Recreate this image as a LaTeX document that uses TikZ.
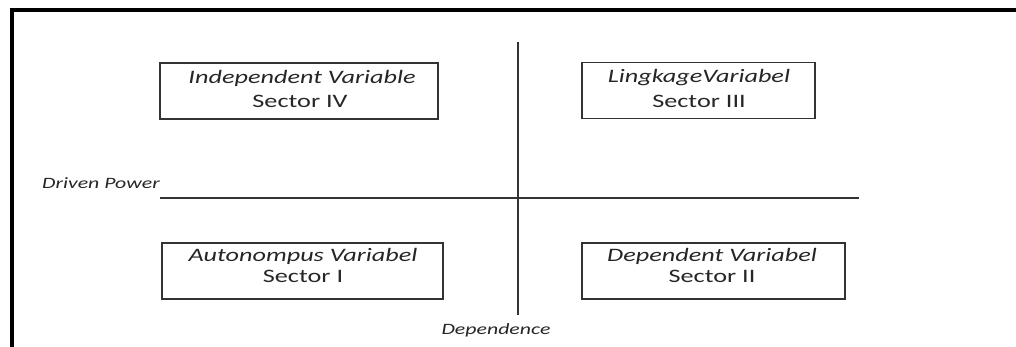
\documentclass[tikz,border=0pt]{standalone}
\usepackage{fontspec}
\setmainfont{Carlito}[FakeStretch=1.38]
\begin{document}
\begin{tikzpicture}[x=1pt,y=-1pt,
  sbox/.style={draw=black!80,line width=1.3pt,minimum width=#1,minimum height=56pt,inner sep=0pt},
  boxtxt/.style={font=\fontsize{19}{21}\selectfont,inner sep=0pt,text=black!85},
  axtxt/.style={font=\fontsize{15.8}{17}\selectfont\itshape,inner sep=0pt,text=black!85},
  axis/.style={draw=black!80,line width=1.4pt},
  frame/.style={draw=black,line width=3.5pt}]
\useasboundingbox (0,0) rectangle (1016,347);
% frame
\coordinate (f1) at (12,10);
\coordinate (f2) at (1016,10);
\coordinate (f3) at (12,347);
\draw[frame] (f2) -- (f1) -- (f3);
% axes
\coordinate (vt) at (518,42);
\coordinate (vb) at (518,315);
\coordinate (hl) at (160,198);
\coordinate (hr) at (859,198);
\draw[axis] (vt) -- (vb);
\draw[axis] (hl) -- (hr);
% boxes
\node[sbox=278pt] (b4) at (299,91) {};
\node[boxtxt] (b4a) at (302,78) {\itshape Independent Variable};
\node[boxtxt] (b4b) at (300,101) {Sector IV};
\node[sbox=233pt] (b3) at (698.5,90.5) {};
\node[boxtxt] (b3a) at (699,78) {\itshape LingkageVariabel};
\node[boxtxt] (b3b) at (699,101) {Sector III};
\node[sbox=281pt] (b1) at (302.5,271) {};
\node[boxtxt] (b1a) at (303,256) {\itshape Autonompus Variabel};
\node[boxtxt] (b1b) at (303,276) {Sector I};
\node[sbox=263pt] (b2) at (713.5,271) {};
\node[boxtxt] (b2a) at (712,256) {\itshape Dependent Variabel};
\node[boxtxt] (b2b) at (712,276) {Sector II};
% axis labels
\node[axtxt,anchor=west] (dp) at (42,183) {Driven Power};
\node[axtxt] (de) at (496,330) {Dependence};
\end{tikzpicture}
\end{document}
